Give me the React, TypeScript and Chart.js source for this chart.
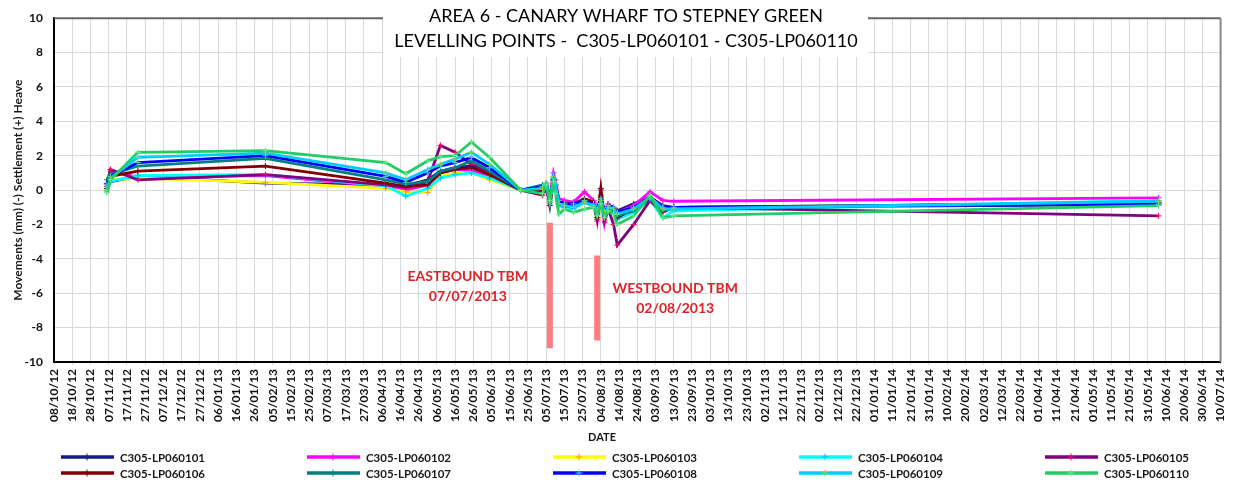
import React, { useEffect, useRef } from "react";
import { Chart, registerables } from "chart.js";

Chart.register(...registerables);

// ---------- DATA ----------
const BASE_DATE = "2012-10-08";
const END_DATE = "2014-07-10";

const DATES = [
  "2012-11-06", "2012-11-08", "2012-11-23", "2013-02-01", "2013-04-08",
  "2013-04-19", "2013-05-01", "2013-05-08", "2013-05-16", "2013-05-25",
  "2013-06-04", "2013-06-21", "2013-07-03", "2013-07-05", "2013-07-07",
  "2013-07-09", "2013-07-10", "2013-07-12", "2013-07-15", "2013-07-20",
  "2013-07-26", "2013-07-31", "2013-08-02", "2013-08-04", "2013-08-06",
  "2013-08-08", "2013-08-11", "2013-08-13", "2013-08-22", "2013-08-31",
  "2013-09-07", "2013-09-13", "2014-06-06",
];

const SERIES_NAMES = [
  "C305-LP060101", "C305-LP060102", "C305-LP060103", "C305-LP060104", "C305-LP060105",
  "C305-LP060106", "C305-LP060107", "C305-LP060108", "C305-LP060109", "C305-LP060110",
];

const S101 = [0.1, 0.5, 0.8, 0.4, 0.3, 0.25, 0.6, 1.1, 1.3, 1.4, 0.9, 0, -0.1, 0.2, -0.6, 0.6, 0.3, -0.6, -0.8, -0.9, -0.6, -0.8, -1.2, -0.5, -1.3, -0.9, -1.0, -1.2, -0.8, -0.4, -0.9, -1.0, -0.85];
const S102 = [0.2, 1.1, 0.75, 0.85, 0.2, 0.0, 0.3, 1.0, 1.2, 1.1, 0.8, 0, 0.1, 0.4, -0.4, 1.0, 0.6, -0.5, -0.6, -0.7, -0.1, -0.6, -1.8, 0.0, -1.9, -0.8, -1.1, -1.3, -0.9, -0.1, -0.6, -0.65, -0.45];
const S103 = [0.0, 0.6, 0.7, 0.45, 0.1, -0.1, -0.15, 0.8, 1.0, 1.0, 0.6, 0, -0.2, 0.2, -0.5, 0.5, 0.2, -0.7, -0.8, -0.9, -0.5, -0.7, -1.3, -0.4, -1.4, -0.9, -1.1, -1.4, -1.1, -0.5, -1.0, -1.1, -0.7];
const S104 = [-0.1, 0.5, 0.85, 0.9, 0.25, -0.35, 0.1, 0.7, 0.9, 1.0, 0.7, 0, -0.2, 0.3, -0.8, 0.7, 0.3, -0.9, -1.0, -1.1, -0.7, -0.9, -1.4, -0.6, -1.5, -1.1, -1.3, -1.7, -1.3, -0.6, -1.6, -1.2, -0.6];
const S105 = [0.3, 1.2, 0.6, 0.9, 0.3, 0.15, 0.5, 2.6, 2.2, 1.5, 1.0, 0, -0.3, 0.1, -0.7, 0.4, 0.2, -0.8, -0.9, -1.0, -0.6, -0.8, -1.7, -0.3, -1.8, -1.1, -2.0, -3.2, -2.0, -0.6, -1.3, -1.0, -1.5];
const S106 = [0.4, 0.8, 1.1, 1.4, 0.4, 0.2, 0.3, 1.0, 1.2, 1.3, 0.9, 0, -0.1, 0.3, -0.9, 0.6, 0.3, -0.7, -0.8, -0.8, -0.5, -0.7, -1.6, 0.1, -1.6, -0.9, -1.2, -1.6, -1.1, -0.5, -1.2, -1.0, -0.75];
const S107 = [0.6, 0.9, 1.4, 1.85, 0.6, 0.35, 0.5, 1.1, 1.3, 1.7, 1.1, 0, 0.3, 0.2, -0.5, 0.6, 0.3, -0.7, -0.9, -0.9, -0.7, -0.9, -1.3, -0.6, -1.4, -1.0, -1.2, -1.5, -1.2, -0.5, -1.2, -1.0, -0.75];
const S108 = [0.3, 0.8, 1.6, 2.0, 0.8, 0.45, 1.0, 1.4, 1.6, 1.9, 1.3, 0, 0.2, 0.3, -0.6, 0.7, 0.3, -0.6, -0.8, -0.8, -0.6, -0.8, -1.1, -0.5, -1.2, -0.9, -1.0, -1.3, -1.0, -0.5, -1.0, -1.0, -0.8];
const S109 = [0.0, 0.7, 1.9, 2.15, 1.0, 0.6, 1.2, 1.5, 1.8, 2.2, 1.5, 0, 0.1, 0.4, -0.7, 0.8, 0.4, -0.8, -0.9, -1.0, -0.7, -0.9, -1.2, -0.6, -1.3, -1.0, -1.1, -1.4, -1.1, -0.4, -1.1, -1.1, -0.65];
const S110 = [-0.15, 0.6, 2.2, 2.3, 1.6, 0.95, 1.7, 1.95, 2.0, 2.8, 1.9, 0, -0.2, 0.3, -0.6, 0.5, -0.2, -1.4, -1.1, -1.3, -1.1, -1.0, -1.5, -0.8, -1.6, -1.2, -1.4, -2.0, -1.5, -0.3, -1.6, -1.5, -0.9];

const SERIES = [S101, S102, S103, S104, S105, S106, S107, S108, S109, S110];

const LINE_COLORS = ["#1a1a80", "#ff00ff", "#ffff00", "#00ffff", "#800080", "#800000", "#008080", "#0000ff", "#00ccff", "#22cc66"];
const MARKER_COLORS = ["#1a1a80", "#ff00ff", "#ff9900", "#00c0ff", "#ff0066", "#800000", "#008080", "#40e0d0", "#99cc33", "#66ee88"];

const EAST_TBM_DATE = "2013-07-07";
const WEST_TBM_DATE = "2013-08-02";
const EAST_BAR = [-1.9, -9.2];
const WEST_BAR = [-3.8, -8.75];
const EAST_LABEL = ["EASTBOUND TBM", "07/07/2013"];
const WEST_LABEL = ["WESTBOUND TBM", "02/08/2013"];

const TITLE_LINES = ["AREA 6 - CANARY WHARF TO STEPNEY GREEN", "LEVELLING POINTS -  C305-LP060101 - C305-LP060110"];
const Y_TITLE = "Movements (mm) (-) Settlement (+) Heave";
const X_TITLE = "DATE";

const Y_MIN = -10;
const Y_MAX = 10;
const Y_STEP = 2;
const X_STEP_DAYS = 10;

// ---------- helpers ----------
const toUTC = (s: string) => {
  const [y, m, d] = s.split("-").map(Number);
  return Date.UTC(y, m - 1, d);
};
const BASE_MS = toUTC(BASE_DATE);
const dayOf = (s: string) => Math.round((toUTC(s) - BASE_MS) / 86400000);
const pad = (n: number) => (n < 10 ? "0" + n : "" + n);
const fmtDay = (day: number) => {
  const dt = new Date(BASE_MS + day * 86400000);
  return pad(dt.getUTCDate()) + "/" + pad(dt.getUTCMonth() + 1) + "/" + pad(dt.getUTCFullYear() % 100);
};

const FONT = "Lato, 'Open Sans', sans-serif";

function drawCross(ctx: CanvasRenderingContext2D, x: number, y: number, r: number, color: string) {
  ctx.save();
  ctx.strokeStyle = color;
  ctx.lineWidth = 1;
  ctx.beginPath();
  ctx.moveTo(x - r, y);
  ctx.lineTo(x + r, y);
  ctx.moveTo(x, y - r);
  ctx.lineTo(x, y + r);
  ctx.stroke();
  ctx.restore();
}

const decorPlugin = {
  id: "decor",
  afterDraw(chart: any) {
    const { ctx, chartArea: a, scales } = chart;
    const xs = scales.x;
    const ys = scales.y;
    ctx.save();
    // plot border: top & right
    ctx.strokeStyle = "#666666";
    ctx.lineWidth = 2;
    ctx.beginPath();
    ctx.moveTo(a.left, a.top);
    ctx.lineTo(a.right, a.top);
    ctx.stroke();
    ctx.strokeStyle = "#888888";
    ctx.beginPath();
    ctx.moveTo(a.right, a.top);
    ctx.lineTo(a.right, a.bottom);
    ctx.stroke();

    // title box
    ctx.fillStyle = "#ffffff";
    ctx.fillRect(383, 0, 485, 57);
    ctx.fillStyle = "#000000";
    ctx.font = "18px " + FONT;
    ctx.textAlign = "center";
    ctx.textBaseline = "middle";
    ctx.fillText(TITLE_LINES[0], 626, 16);
    ctx.fillText(TITLE_LINES[1], 626, 41);

    // y title
    ctx.save();
    ctx.translate(18, (a.top + a.bottom) / 2);
    ctx.rotate(-Math.PI / 2);
    ctx.font = "bold 12px " + FONT;
    ctx.fillStyle = "#1a1a1a";
    ctx.fillText(Y_TITLE, 0, 0);
    ctx.restore();

    // x title
    ctx.font = "bold 11px " + FONT;
    ctx.fillStyle = "#1a1a1a";
    ctx.fillText(X_TITLE, 602, 437);

    // TBM labels
    ctx.fillStyle = "#dd2229";
    ctx.font = "bold 14px " + FONT;
    const ex = xs.getPixelForValue(dayOf(EAST_TBM_DATE)) - 82;
    ctx.fillText(EAST_LABEL[0], ex, ys.getPixelForValue(-5.0));
    ctx.fillText(EAST_LABEL[1], ex, ys.getPixelForValue(-6.2));
    const wx = xs.getPixelForValue(dayOf(WEST_TBM_DATE)) + 78;
    ctx.fillText(WEST_LABEL[0], wx, ys.getPixelForValue(-5.7));
    ctx.fillText(WEST_LABEL[1], wx, ys.getPixelForValue(-6.9));

    // legend
    ctx.textAlign = "left";
    ctx.font = "bold 11.5px " + FONT;
    SERIES_NAMES.forEach((name, i) => {
      const col = i % 5;
      const row = Math.floor(i / 5);
      const x0 = 61 + col * 246;
      const y0 = 457 + row * 16;
      ctx.strokeStyle = LINE_COLORS[i];
      ctx.lineWidth = 3.5;
      ctx.beginPath();
      ctx.moveTo(x0, y0);
      ctx.lineTo(x0 + 53, y0);
      ctx.stroke();
      drawCross(ctx, x0 + 26, y0, 3.5, MARKER_COLORS[i]);
      ctx.fillStyle = "#1a1a1a";
      ctx.fillText(name, x0 + 59, y0 + 1);
    });
    ctx.restore();
  },
};

export default function App() {
  const ref = useRef<HTMLCanvasElement | null>(null);
  useEffect(() => {
    document.body.style.margin = "0";
    const canvas = ref.current!;
    const xDays = DATES.map(dayOf);
    const lineSets = SERIES.map((vals, i) => ({
      label: SERIES_NAMES[i],
      data: vals.map((v, j) => ({ x: xDays[j], y: v })),
      borderColor: LINE_COLORS[i],
      backgroundColor: LINE_COLORS[i],
      borderWidth: 2.8,
      pointStyle: "cross",
      pointRadius: 3,
      pointBorderWidth: 1,
      pointBorderColor: MARKER_COLORS[i],
      pointBackgroundColor: MARKER_COLORS[i],
      tension: 0,
      order: 20 - i,
    }));
    const barSet = (date: string, range: number[], label: string) => ({
      label,
      data: range.map((v) => ({ x: dayOf(date), y: v })),
      borderColor: "#ff7c80",
      borderWidth: 6,
      borderCapStyle: "butt",
      pointRadius: 0,
      order: 30,
    });
    const chart = new Chart(canvas, {
      type: "line",
      data: {
        datasets: [
          ...lineSets,
          barSet(EAST_TBM_DATE, EAST_BAR, "Eastbound TBM"),
          barSet(WEST_TBM_DATE, WEST_BAR, "Westbound TBM"),
        ] as any,
      },
      options: {
        animation: false,
        responsive: false,
        devicePixelRatio: 1,
        layout: { padding: { top: 16, right: 11, left: 0, bottom: 0 } },
        plugins: { legend: { display: false }, tooltip: { enabled: false }, title: { display: false } },
        scales: {
          x: {
            type: "linear",
            min: 0,
            max: dayOf(END_DATE),
            afterFit: (s: any) => { s.height = 119; },
            afterBuildTicks: (s: any) => {
              const t = [];
              for (let d = 0; d <= dayOf(END_DATE); d += X_STEP_DAYS) t.push({ value: d });
              s.ticks = t;
            },
            ticks: {
              autoSkip: false,
              minRotation: 90,
              maxRotation: 90,
              padding: 4,
              color: "#111111",
              font: { family: FONT, size: 12, weight: "bold" },
              callback: (v: any) => fmtDay(Number(v)),
            },
            grid: { color: "#d9d9d9", lineWidth: 1, drawTicks: true, tickLength: 3 },
            border: { color: "#000000", width: 2 },
          },
          y: {
            min: Y_MIN,
            max: Y_MAX,
            afterFit: (s: any) => { s.width = 54; },
            ticks: {
              stepSize: Y_STEP,
              padding: 11,
              color: "#111111",
              font: { family: FONT, size: 12, weight: "bold" },
            },
            grid: { color: "#d9d9d9", lineWidth: 1, drawTicks: false },
            border: { color: "#000000", width: 2 },
          },
        },
      },
      plugins: [decorPlugin],
    } as any);
    return () => chart.destroy();
  }, []);
  return (
    <div style={{ width: 1239, height: 481, background: "#ffffff" }}>
      <canvas ref={ref} width={1239} height={481} style={{ display: "block" }} />
    </div>
  );
}
